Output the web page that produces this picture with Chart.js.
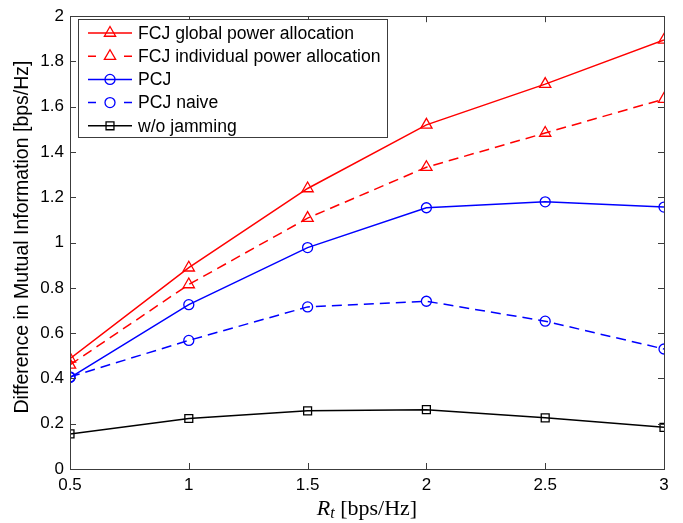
<!DOCTYPE html>
<html>
<head>
<meta charset="utf-8">
<script src="https://cdn.jsdelivr.net/npm/chart.js@4/dist/chart.umd.min.js"></script>
<style>
html,body{margin:0;padding:0;background:#fff;}
#wrap{width:683px;height:523px;}
</style>
</head>
<body>
<div id="wrap"><canvas id="c" width="683" height="523"></canvas></div>
<script>
const rateValues = [0.5, 1, 1.5, 2, 2.5, 3];
const fcjGlobal = [0.487, 0.889, 1.239, 1.520, 1.700, 1.895];
const fcjIndividual = [0.460, 0.815, 1.108, 1.333, 1.484, 1.634];
const pcj = [0.404, 0.726, 0.978, 1.154, 1.180, 1.157];
const pcjNaive = [0.407, 0.568, 0.716, 0.741, 0.653, 0.530];
const withoutJamming = [0.155, 0.223, 0.257, 0.262, 0.226, 0.184];
const seriesNames = ['FCJ global power allocation', 'FCJ individual power allocation', 'PCJ', 'PCJ naive', 'w/o jamming'];
const yAxisTitle = 'Difference in Mutual Information [bps/Hz]';

const FONT = '"Liberation Sans", Arial, sans-serif';
const SERIF = '"Liberation Serif", "DejaVu Serif", serif';
const RED = '#ff0000', BLUE = '#0000ff', BLACK = '#000000';
const RADII = { triangle: 6.5, circle: 5, rect: 5.6 };

function mk(label, vals, color, dash, style) {
  return {
    label,
    data: rateValues.map((x, i) => ({x, y: vals[i]})),
    borderColor: color,
    backgroundColor: 'rgba(0,0,0,0)',
    pointBackgroundColor: 'rgba(0,0,0,0)',
    pointBorderColor: color,
    pointBorderWidth: 1.3,
    pointStyle: style,
    pointRadius: RADII[style],
    borderWidth: 1.5,
    borderDash: dash,
    tension: 0,
    fill: false
  };
}

const datasets = [
  mk(seriesNames[0], fcjGlobal, RED, [], 'triangle'),
  mk(seriesNames[1], fcjIndividual, RED, [10, 6], 'triangle'),
  mk(seriesNames[2], pcj, BLUE, [], 'circle'),
  mk(seriesNames[3], pcjNaive, BLUE, [10, 6], 'circle'),
  mk(seriesNames[4], withoutJamming, BLACK, [], 'rect')
];

const frame = {
  id: 'frame',
  afterDatasetsDraw(chart) {
    const ctx = chart.ctx, a = chart.chartArea;
    const xs = chart.scales.x, ys = chart.scales.y;
    ctx.save();
    ctx.strokeStyle = '#3c3c3c';
    ctx.lineWidth = 1;
    ctx.setLineDash([]);
    ctx.strokeRect(Math.round(a.left) + 0.5, Math.round(a.top) + 0.5, Math.round(a.right - a.left), Math.round(a.bottom - a.top));
    const tl = 6;
    ctx.beginPath();
    xs.ticks.forEach(t => {
      const px = Math.round(xs.getPixelForValue(t.value)) + 0.5;
      ctx.moveTo(px, a.bottom); ctx.lineTo(px, a.bottom - tl);
      ctx.moveTo(px, a.top); ctx.lineTo(px, a.top + tl);
    });
    ys.ticks.forEach(t => {
      const py = Math.round(ys.getPixelForValue(t.value)) + 0.5;
      ctx.moveTo(a.left, py); ctx.lineTo(a.left + tl, py);
      ctx.moveTo(a.right, py); ctx.lineTo(a.right - tl, py);
    });
    ctx.stroke();

    // legend
    const lx = a.left + 8, ly = 19, rowH = 23.2;
    ctx.font = '17.6px ' + FONT;
    let maxW = 0;
    seriesNames.forEach(n => { maxW = Math.max(maxW, ctx.measureText(n).width); });
    const textX = 138;
    const boxW = textX + maxW + 6 - lx;
    const boxH = 118;
    ctx.fillStyle = '#fff';
    ctx.fillRect(lx, ly, boxW, boxH);
    ctx.strokeStyle = '#3c3c3c';
    ctx.lineWidth = 1;
    ctx.strokeRect(Math.round(lx) + 0.5, ly + 0.5, Math.round(boxW), boxH);
    chart.data.datasets.forEach((ds, i) => {
      const cy = ly + 14 + i * rowH;
      ctx.strokeStyle = ds.borderColor;
      ctx.lineWidth = 1.5;
      ctx.setLineDash([]);
      ctx.beginPath();
      if (ds.borderDash.length) {
        ctx.moveTo(88, cy); ctx.lineTo(96, cy);
        ctx.moveTo(124, cy); ctx.lineTo(132, cy);
      } else {
        ctx.moveTo(88, cy); ctx.lineTo(132, cy);
      }
      ctx.stroke();
      ctx.fillStyle = 'rgba(0,0,0,0)';
      ctx.lineWidth = 1.3;
      Chart.helpers.drawPoint(ctx, {
        pointStyle: ds.pointStyle,
        radius: ds.pointRadius,
        borderWidth: 1.3,
        rotation: 0
      }, 110, cy);
      ctx.fillStyle = '#000';
      ctx.font = '17.6px ' + FONT;
      ctx.textBaseline = 'middle';
      ctx.textAlign = 'left';
      ctx.fillText(ds.label, textX, cy + 1);
    });

    // axis titles
    ctx.fillStyle = '#000';
    ctx.save();
    ctx.translate(23, 237);
    ctx.rotate(-Math.PI / 2);
    ctx.font = '19.5px ' + FONT;
    ctx.textAlign = 'center';
    ctx.textBaseline = 'middle';
    ctx.fillText(yAxisTitle, 0, 0);
    ctx.restore();

    const cx = (a.left + a.right) / 2;
    const base = 515;
    const partR = 'R', partT = 't', partU = ' [bps/Hz]';
    ctx.textBaseline = 'alphabetic';
    ctx.textAlign = 'left';
    ctx.font = 'italic 22px ' + SERIF;
    const wR = ctx.measureText(partR).width;
    ctx.font = 'italic 16px ' + SERIF;
    const wT = ctx.measureText(partT).width;
    ctx.font = '22px ' + SERIF;
    const wU = ctx.measureText(partU).width;
    let x0 = cx - (wR + wT + wU) / 2;
    ctx.font = 'italic 22px ' + SERIF;
    ctx.fillText(partR, x0, base);
    ctx.font = 'italic 16px ' + SERIF;
    ctx.fillText(partT, x0 + wR, base + 3);
    ctx.font = '22px ' + SERIF;
    ctx.fillText(partU, x0 + wR + wT, base);
    ctx.restore();
  }
};

const fmt = v => String(Number(Number(v).toFixed(1)));

new Chart(document.getElementById('c'), {
  type: 'line',
  data: { datasets },
  options: {
    responsive: false,
    animation: false,
    devicePixelRatio: 1,
    layout: { padding: { left: 0, right: 19, top: 8, bottom: 0 } },
    plugins: { legend: { display: false }, tooltip: { enabled: false } },
    scales: {
      x: {
        type: 'linear',
        min: 0.5, max: 3,
        ticks: { stepSize: 0.5, color: '#000', font: { family: FONT, size: 17 }, padding: 6, maxRotation: 0, callback: fmt },
        grid: { display: false, drawTicks: false },
        border: { display: false },
        afterFit(s) { s.height = 54; }
      },
      y: {
        min: 0, max: 2,
        ticks: { stepSize: 0.2, color: '#000', font: { family: FONT, size: 17 }, padding: 6, callback: fmt },
        grid: { display: false, drawTicks: false },
        border: { display: false },
        afterFit(s) { s.width = 70; }
      }
    }
  },
  plugins: [frame]
});
</script>
</body>
</html>
